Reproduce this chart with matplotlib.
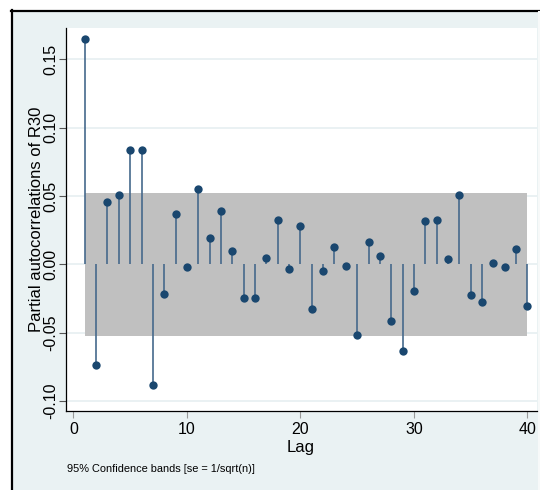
import matplotlib
matplotlib.use("Agg")
import matplotlib.pyplot as plt
from matplotlib.lines import Line2D
from matplotlib.patches import Rectangle
from matplotlib.ticker import FormatStrFormatter

plt.rcParams['font.family'] = ['Liberation Sans', 'DejaVu Sans']

# Partial autocorrelations of R30, lags 1..40
lags = list(range(1, 41))
pacf = [0.1649, -0.0737, 0.0456, 0.0510, 0.0834, 0.0839, -0.0883, -0.0220,
        0.0371, -0.0022, 0.0549, 0.0190, 0.0393, 0.0098, -0.0249, -0.0249,
        0.0046, 0.0324, -0.0032, 0.0278, -0.0327, -0.0051, 0.0127, -0.0012,
        -0.0520, 0.0161, 0.0061, -0.0412, -0.0634, -0.0193, 0.0315, 0.0324,
        0.0037, 0.0510, -0.0224, -0.0273, 0.0007, -0.0017, 0.0112, -0.0307]
conf_band = 0.0522
yticks = [-0.10, -0.05, 0.00, 0.05, 0.10, 0.15]
xticks = [0, 10, 20, 30, 40]

W, H = 540, 490
fig = plt.figure(figsize=(W / 100, H / 100), dpi=100)
fig.patch.set_facecolor('white')

# graph region background with dark frame on left and top
bg = '#eaf2f3'
fig.patches.append(Rectangle((12 / W, 0), 1 - 12 / W, 1 - 11 / H,
                             transform=fig.transFigure, facecolor=bg,
                             edgecolor='none', zorder=-2))
fig.lines.append(Line2D([12 / W, 12 / W], [0, 1 - 10 / H], transform=fig.transFigure,
                        color='black', lw=1.6, zorder=-1))
fig.lines.append(Line2D([11 / W, 1], [1 - 11 / H, 1 - 11 / H], transform=fig.transFigure,
                        color='black', lw=1.6, zorder=-1))
fig.lines.append(Line2D([538.5 / W, 538.5 / W], [0, 1 - 12 / H], transform=fig.transFigure,
                        color='#f7f9f9', lw=1.5, zorder=-1))

left, right, top, bottom = 65.5, 536.5, 28, 411
ax = fig.add_axes([left / W, 1 - bottom / H, (right - left) / W, (bottom - top) / H])
ax.set_zorder(2)
ax.set_facecolor('white')

ax.set_xlim(-0.7, 40.8)
ax.set_ylim(-0.1073, 0.1729)

for v in yticks:
    ax.axhline(v, color='#e6eff1', lw=1.2, zorder=0)

ax.fill_between([lags[0], lags[-1]], -conf_band, conf_band, color='#c0c0c0',
                lw=0, zorder=1)

navy = '#1a476f'
ax.vlines(lags, 0, pacf, color='#46698c', lw=1.2, zorder=2)
ax.plot(lags, pacf, 'o', color=navy, markersize=6.0, markeredgewidth=0, zorder=3)

ax.set_yticks(yticks)
ax.yaxis.set_major_formatter(FormatStrFormatter('%.2f'))
ax.set_xticks(xticks)
for lab in ax.get_yticklabels():
    lab.set_rotation(90)
    lab.set_va('center')
ax.tick_params(axis='y', length=5, width=0.8, color='#555555', labelsize=11.5, pad=0)
ax.tick_params(axis='x', length=5, width=0.8, color='#999999', labelsize=11.5, pad=3)

for s in ['top', 'right']:
    ax.spines[s].set_visible(False)
for s in ['left', 'bottom']:
    ax.spines[s].set_color('black')
    ax.spines[s].set_linewidth(0.9)

ax.set_ylabel('Partial autocorrelations of R30', fontsize=12, labelpad=0)
ax.set_xlabel('Lag', fontsize=12, labelpad=2)

fig.text(67 / W, 1 - 469 / H, '95% Confidence bands [se = 1/sqrt(n)]',
         fontsize=7.9, va='center', ha='left')

fig.savefig('out.png', dpi=100, facecolor=fig.get_facecolor())
